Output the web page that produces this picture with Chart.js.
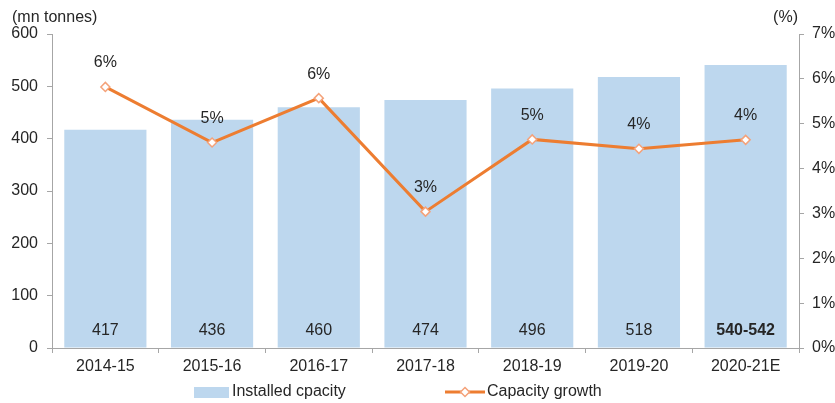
<!DOCTYPE html>
<html>
<head>
<meta charset="utf-8">
<script src="https://cdn.jsdelivr.net/npm/chart.js@4.4.1/dist/chart.umd.min.js"></script>
<style>
html,body{margin:0;padding:0;background:#fff;}
#wrap{position:relative;width:835px;height:403px;}
</style>
</head>
<body>
<div id="wrap"><canvas id="c"></canvas></div>
<script>
const categories = ['2014-15','2015-16','2016-17','2017-18','2018-19','2019-20','2020-21E'];
const capacity = [417, 436, 460, 474, 496, 518, 541];
const capacityLabels = ['417','436','460','474','496','518','540-542'];
const growth = [5.82, 4.58, 5.57, 3.04, 4.65, 4.44, 4.64];
const growthLabels = ['6%','5%','6%','3%','5%','4%','4%'];
const leftTicks = [0,100,200,300,400,500,600];
const rightTicks = [0,1,2,3,4,5,6,7];

const FONT = '"Liberation Sans", Arial, Helvetica, sans-serif';
const TEXT = '#262626';
const AXIS = '#A6A6A6';
const BAR = '#BDD7EE';
const LINE = '#ED7D31';
const MARK = '#F4A27A';

const labelPlugin = {
  id: 'customLabels',
  afterDatasetsDraw(chart) {
    const ctx = chart.ctx;
    ctx.save();
    ctx.fillStyle = TEXT;
    ctx.textAlign = 'center';
    ctx.textBaseline = 'middle';
    const bars = chart.getDatasetMeta(0).data;
    bars.forEach((el, i) => {
      ctx.font = (i === bars.length - 1 ? 'bold ' : '') + '16px ' + FONT;
      ctx.fillText(capacityLabels[i], el.x, el.base - 17);
    });
    ctx.font = '16px ' + FONT;
    chart.getDatasetMeta(1).data.forEach((el, i) => {
      ctx.fillText(growthLabels[i], el.x, el.y - 24);
    });
    // axis titles
    ctx.textAlign = 'left';
    ctx.fillText('(mn tonnes)', 12, 18);
    ctx.textAlign = 'right';
    ctx.fillText('(%)', 798, 18);
    // legend
    const ly = 392;
    ctx.fillStyle = BAR;
    ctx.fillRect(194, ly - 5, 35, 11);
    ctx.fillStyle = TEXT;
    ctx.textAlign = 'left';
    ctx.fillText(chart.data.datasets[0].label, 232, ly);
    ctx.strokeStyle = LINE;
    ctx.lineWidth = 3;
    ctx.beginPath(); ctx.moveTo(445, ly); ctx.lineTo(485, ly); ctx.stroke();
    ctx.fillStyle = '#fff';
    ctx.strokeStyle = MARK;
    ctx.lineWidth = 1.5;
    ctx.beginPath();
    ctx.moveTo(465, ly - 4.5); ctx.lineTo(469.5, ly); ctx.lineTo(465, ly + 4.5); ctx.lineTo(460.5, ly); ctx.closePath();
    ctx.fill(); ctx.stroke();
    ctx.fillStyle = TEXT;
    ctx.fillText(chart.data.datasets[1].label, 487, ly);
    ctx.restore();
  }
};

new Chart(document.getElementById('c'), {
  data: {
    labels: categories,
    datasets: [
      {
        type: 'line',
        label: 'Capacity growth',
        data: growth,
        yAxisID: 'y1',
        borderColor: LINE,
        borderWidth: 3,
        tension: 0,
        pointStyle: 'rectRot',
        pointRadius: 4.5,
        pointBackgroundColor: '#fff',
        pointBorderColor: MARK,
        pointBorderWidth: 1.5,
        order: 0
      },
      {
        type: 'bar',
        label: 'Installed cpacity',
        data: capacity,
        yAxisID: 'y',
        backgroundColor: BAR,
        categoryPercentage: 1,
        barPercentage: 0.77,
        order: 1
      }
    ].reverse()
  },
  options: {
    responsive: true,
    maintainAspectRatio: false,
    animation: false,
    layout: { padding: { top: 34, left: 0, right: 0, bottom: 0 } },
    plugins: { legend: { display: false }, tooltip: { enabled: false } },
    scales: {
      x: {
        offset: true,
        grid: { display: true, drawOnChartArea: false, tickLength: 5, color: AXIS, offset: true },
        border: { color: AXIS, width: 1 },
        ticks: { color: TEXT, font: { family: FONT, size: 16 }, padding: 4, maxRotation: 0 },
        afterFit(s) { s.height = 55; }
      },
      y: {
        position: 'left',
        min: 0, max: 600,
        afterBuildTicks(s) { s.ticks = leftTicks.map(v => ({ value: v })); },
        grid: { display: true, drawOnChartArea: false, tickLength: 5, color: AXIS },
        border: { color: AXIS, width: 1 },
        ticks: { color: TEXT, font: { family: FONT, size: 16 }, padding: 9 },
        afterFit(s) { s.width = 52; }
      },
      y1: {
        position: 'right',
        min: 0, max: 7,
        afterBuildTicks(s) { s.ticks = rightTicks.map(v => ({ value: v })); },
        grid: { display: true, drawOnChartArea: false, tickLength: 5, color: AXIS },
        border: { color: AXIS, width: 1 },
        ticks: { color: TEXT, font: { family: FONT, size: 16 }, padding: 8, callback: v => v + '%' },
        afterFit(s) { s.width = 36; }
      }
    }
  },
  plugins: [labelPlugin]
});
</script>
</body>
</html>
